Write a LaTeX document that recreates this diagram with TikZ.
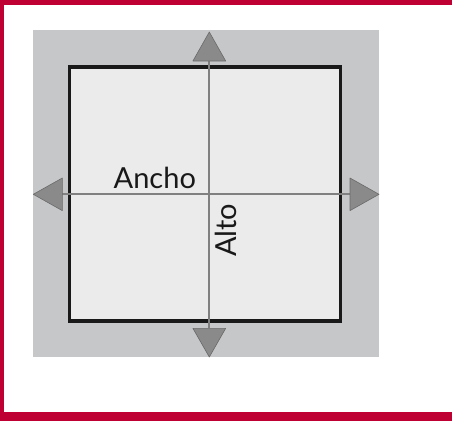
\documentclass[tikz,border=0pt]{standalone}
\usepackage{fontspec}
\setmainfont{Lato}
\definecolor{frame}{HTML}{BE0032}
\definecolor{outergrey}{HTML}{C6C7C9}
\definecolor{innergrey}{HTML}{EBEBEB}
\definecolor{axisgrey}{HTML}{808080}
\definecolor{tipfill}{HTML}{8A8A8A}
\definecolor{tipline}{HTML}{6A6A6A}
\begin{document}
\begin{tikzpicture}[x=1pt,y=-1pt,
  axisline/.style={draw=axisgrey,line width=2.3pt},
  tiptri/.style={fill=tipfill,draw=tipline,line width=0.6pt,line join=round},
  lbl/.style={inner sep=0pt,font=\fontsize{29}{31}\selectfont,text=black!90}]
\useasboundingbox (0,0) rectangle (452,421);
\fill[white] (0,0) rectangle (452,421);
% red frame
\fill[frame] (0,0) rectangle (452,4.5);
\fill[frame] (0,0) rectangle (4,421);
\fill[frame] (0,412.3) rectangle (452,421);
% outer grey square
\fill[outergrey] (33,30.3) rectangle (379.3,357);
% inner square
\draw[fill=innergrey,draw=black!90,line width=3.2pt] (69.8,67) rectangle (340.2,321);
% axis coordinates
\coordinate (tb) at (209.3,61);
\coordinate (bb) at (209.3,328.3);
\coordinate (lb) at (62.3,194.3);
\coordinate (rb) at (350,194.3);
\draw[axisline] (tb) -- (bb);
\draw[axisline] (lb) -- (rb);
% arrow heads
\draw[tiptri] (192.9,61) -- (209.3,32) -- (225.7,61) -- cycle;
\draw[tiptri] (192.9,328.3) -- (209.3,357) -- (225.7,328.3) -- cycle;
\draw[tiptri] (62.3,178) -- (33.3,194.3) -- (62.3,210.6) -- cycle;
\draw[tiptri] (350,178) -- (379,194.3) -- (350,210.6) -- cycle;
% labels
\node[lbl,anchor=base west] (ancho) at (113.5,188.3) {Ancho};
\node[lbl,anchor=base west,rotate=90] (alto) at (236.5,257) {Alto};
\end{tikzpicture}
\end{document}
